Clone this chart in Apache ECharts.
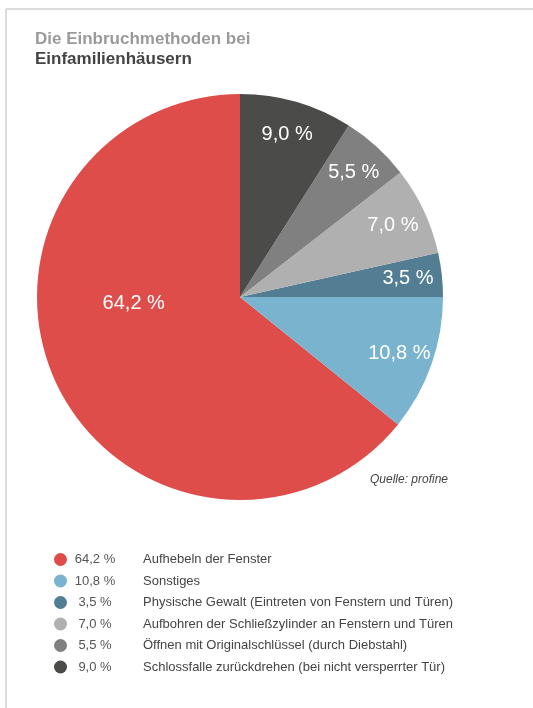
<!DOCTYPE html>
<html>
<head>
<meta charset="utf-8">
<script src="https://cdn.jsdelivr.net/npm/echarts@6/dist/echarts.min.js"></script>
<style>
  html, body { margin: 0; padding: 0; background: #fff; }
  #chart { width: 533px; height: 708px; }
</style>
</head>
<body>
<div id="chart"></div>
<script>
// data, in legend order (pie runs counter-clockwise from 12 o'clock)
const names = [
  'Aufhebeln der Fenster',
  'Sonstiges',
  'Physische Gewalt (Eintreten von Fenstern und Türen)',
  'Aufbohren der Schließzylinder an Fenstern und Türen',
  'Öffnen mit Originalschlüssel (durch Diebstahl)',
  'Schlossfalle zurückdrehen (bei nicht versperrter Tür)'
]
const values = [64.2, 10.8, 3.5, 7.0, 5.5, 9.0]
const colors = ['#df4d4b', '#7ab3ce', '#527d92', '#b0b0b0', '#808080', '#4b4b49']

const fmt = v => v.toFixed(1).replace('.', ',') + ' %'
const FONT = '"Liberation Sans", Arial, sans-serif'

const chart = echarts.init(document.getElementById('chart'))

const pieData = names.map((n, i) => ({
  name: n,
  value: values[i],
  itemStyle: { color: colors[i] },
  // the big slice keeps its label in the inner pie, shifted like the original
  label: i === 0 ? { show: true, offset: [-12, -39] } : { show: false }
}))

const ringData = names.map((n, i) => ({
  name: n,
  value: values[i],
  itemStyle: { color: 'transparent' },
  label: { show: i !== 0 }
}))

const labelStyle = {
  position: 'inside',
  formatter: p => fmt(p.value),
  color: '#fff',
  fontFamily: FONT,
  fontSize: 20
}

chart.setOption({
  animation: false,
  title: [
    {
      left: 30,
      top: 24,
      text: '{a|Die Einbruchmethoden bei}\n{b|Einfamilienhäusern}',
      textStyle: {
        rich: {
          a: { fontFamily: FONT, fontWeight: 'bold', fontSize: 17, color: '#9a9a9a', lineHeight: 20 },
          b: { fontFamily: FONT, fontWeight: 'bold', fontSize: 17, color: '#444', lineHeight: 20 }
        }
      }
    },
    {
      left: 365,
      top: 469,
      text: 'Quelle: profine',
      textStyle: { fontFamily: FONT, fontStyle: 'italic', fontWeight: 'normal', fontSize: 12, color: '#444' }
    }
  ],
  legend: {
    orient: 'vertical',
    left: 49,
    top: 548,
    icon: 'circle',
    itemWidth: 13,
    itemHeight: 13,
    itemGap: 8.5,
    selectedMode: false,
    data: names,
    formatter: name => {
      const i = names.indexOf(name)
      return '{p|' + fmt(values[i]) + '}{n|' + name + '}'
    },
    textStyle: {
      rich: {
        p: { width: 46, align: 'right', fontFamily: FONT, fontSize: 13, color: '#555' },
        n: { padding: [0, 0, 0, 25], fontFamily: FONT, fontSize: 13, color: '#444' }
      }
    }
  },
  graphic: [
    { type: 'line', shape: { x1: 6, y1: 9, x2: 533, y2: 9 }, style: { stroke: '#dcdcdc', lineWidth: 2 } },
    { type: 'line', shape: { x1: 6, y1: 9, x2: 6, y2: 708 }, style: { stroke: '#dcdcdc', lineWidth: 2 } }
  ],
  series: [
    {
      type: 'pie',
      center: [240, 297],
      radius: [0, 203],
      startAngle: 90,
      clockwise: false,
      silent: true,
      label: labelStyle,
      labelLine: { show: false },
      itemStyle: { borderWidth: 0 },
      data: pieData
    },
    {
      type: 'pie',
      center: [240, 297],
      radius: [129, 203],
      startAngle: 90,
      clockwise: false,
      silent: true,
      label: labelStyle,
      labelLine: { show: false },
      itemStyle: { borderWidth: 0 },
      data: ringData
    }
  ]
})
</script>
</body>
</html>
